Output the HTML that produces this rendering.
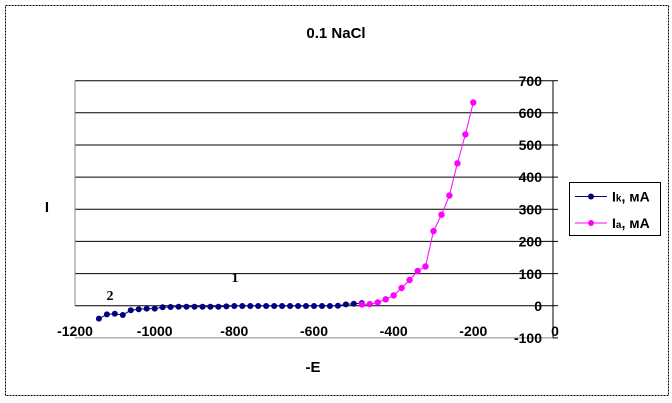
<!DOCTYPE html>
<html><head><meta charset="utf-8"><style>
html,body{margin:0;padding:0;background:#fff;width:672px;height:403px;overflow:hidden}
svg{display:block;font-family:"Liberation Sans",Arial,sans-serif}
</style></head><body>
<svg width="672" height="403" viewBox="0 0 672 403">
<rect x="5.5" y="5.5" width="663" height="390" fill="#fff" stroke="#000" stroke-width="1" stroke-dasharray="2,1"/>
<text x="336" y="38" text-anchor="middle" font-size="15" font-weight="bold">0.1 NaCl</text>
<g stroke="#000" stroke-width="1">
<line x1="75" y1="80.7" x2="553" y2="80.7"/>
<line x1="75" y1="112.8" x2="553" y2="112.8"/>
<line x1="75" y1="145" x2="553" y2="145"/>
<line x1="75" y1="177.1" x2="553" y2="177.1"/>
<line x1="75" y1="209.3" x2="553" y2="209.3"/>
<line x1="75" y1="241.4" x2="553" y2="241.4"/>
<line x1="75" y1="273.6" x2="553" y2="273.6"/>
<line x1="75" y1="305.7" x2="553" y2="305.7"/>
</g>
<line x1="75" y1="80.7" x2="75" y2="305.7" stroke="#888"/>
<line x1="75" y1="337.9" x2="553" y2="337.9" stroke="#888"/>
<line x1="553" y1="80.7" x2="553" y2="337.9" stroke="#000"/>
<g stroke="#000">
<line x1="553" y1="80.7" x2="558" y2="80.7"/><line x1="553" y1="112.8" x2="558" y2="112.8"/>
<line x1="553" y1="145" x2="558" y2="145"/><line x1="553" y1="177.1" x2="558" y2="177.1"/>
<line x1="553" y1="209.3" x2="558" y2="209.3"/><line x1="553" y1="241.4" x2="558" y2="241.4"/>
<line x1="553" y1="273.6" x2="558" y2="273.6"/><line x1="553" y1="305.7" x2="558" y2="305.7"/>
<line x1="553" y1="337.9" x2="558" y2="337.9"/>
</g>
<g font-size="14" font-weight="bold" text-anchor="end">
<text x="542" y="86">700</text><text x="542" y="118">600</text><text x="542" y="150">500</text>
<text x="542" y="182">400</text><text x="542" y="214.5">300</text><text x="542" y="246.5">200</text>
<text x="542" y="279">100</text><text x="542" y="311">0</text><text x="542" y="343">-100</text>
</g>
<g font-size="14" font-weight="bold" text-anchor="middle">
<text x="75" y="336">-1200</text><text x="154.7" y="336">-1000</text><text x="234.3" y="336">-800</text>
<text x="314" y="336">-600</text><text x="393.7" y="336">-400</text><text x="473.3" y="336">-200</text>
<text x="555" y="336">0</text>
</g>
<text x="47" y="212" font-size="15" font-weight="bold" text-anchor="middle">I</text>
<text x="313" y="372" font-size="15" font-weight="bold" text-anchor="middle">-E</text>
<text x="235" y="282" font-size="14" font-weight="bold" font-family="Liberation Serif,serif" text-anchor="middle">1</text>
<text x="110" y="300" font-size="14" font-weight="bold" font-family="Liberation Serif,serif" text-anchor="middle">2</text>
<polyline fill="none" stroke="#000080" stroke-width="1" points="98.9,318.6 106.9,314.4 114.8,313.7 122.8,315 130.8,310.2 138.7,309.2 146.7,308.6 154.7,308.6 162.6,307.3 170.6,307 178.6,306.7 186.5,306.7 194.5,306.7 202.5,306.7 210.4,306.7 218.4,306.7 226.4,306.4 234.3,306 242.3,306 250.3,306 258.2,306 266.2,306 274.2,306 282.1,306 290.1,306 298.1,306 306,306 314,306 322,306 329.9,306 337.9,305.7 345.9,304.4 353.8,303.8 361.8,303.1"/>
<g fill="#000080">
<circle cx="98.9" cy="318.6" r="3"/><circle cx="106.9" cy="314.4" r="3"/><circle cx="114.8" cy="313.7" r="3"/><circle cx="122.8" cy="315" r="3"/><circle cx="130.8" cy="310.2" r="3"/><circle cx="138.7" cy="309.2" r="3"/><circle cx="146.7" cy="308.6" r="3"/><circle cx="154.7" cy="308.6" r="3"/><circle cx="162.6" cy="307.3" r="3"/><circle cx="170.6" cy="307" r="3"/><circle cx="178.6" cy="306.7" r="3"/><circle cx="186.5" cy="306.7" r="3"/><circle cx="194.5" cy="306.7" r="3"/><circle cx="202.5" cy="306.7" r="3"/><circle cx="210.4" cy="306.7" r="3"/><circle cx="218.4" cy="306.7" r="3"/><circle cx="226.4" cy="306.4" r="3"/><circle cx="234.3" cy="306" r="3"/><circle cx="242.3" cy="306" r="3"/><circle cx="250.3" cy="306" r="3"/><circle cx="258.2" cy="306" r="3"/><circle cx="266.2" cy="306" r="3"/><circle cx="274.2" cy="306" r="3"/><circle cx="282.1" cy="306" r="3"/><circle cx="290.1" cy="306" r="3"/><circle cx="298.1" cy="306" r="3"/><circle cx="306" cy="306" r="3"/><circle cx="314" cy="306" r="3"/><circle cx="322" cy="306" r="3"/><circle cx="329.9" cy="306" r="3"/><circle cx="337.9" cy="305.7" r="3"/><circle cx="345.9" cy="304.4" r="3"/><circle cx="353.8" cy="303.8" r="3"/><circle cx="361.8" cy="303.1" r="3"/>
</g>
<polyline fill="none" stroke="#ff00ff" stroke-width="1" points="361.8,304.4 369.8,304.1 377.7,302.5 385.7,299.3 393.7,295.4 401.6,288 409.6,280 417.6,271 425.5,266.5 433.5,231.1 441.5,214.7 449.4,195.5 457.4,163.3 465.4,134.4 473.3,102.5"/>
<g fill="#ff00ff">
<circle cx="361.8" cy="304.4" r="3.2"/><circle cx="369.8" cy="304.1" r="3.2"/><circle cx="377.7" cy="302.5" r="3.2"/><circle cx="385.7" cy="299.3" r="3.2"/><circle cx="393.7" cy="295.4" r="3.2"/><circle cx="401.6" cy="288" r="3.2"/><circle cx="409.6" cy="280" r="3.2"/><circle cx="417.6" cy="271" r="3.2"/><circle cx="425.5" cy="266.5" r="3.2"/><circle cx="433.5" cy="231.1" r="3.2"/><circle cx="441.5" cy="214.7" r="3.2"/><circle cx="449.4" cy="195.5" r="3.2"/><circle cx="457.4" cy="163.3" r="3.2"/><circle cx="465.4" cy="134.4" r="3.2"/><circle cx="473.3" cy="102.5" r="3.2"/>
</g>
<rect x="569.5" y="182.5" width="91" height="53" fill="#fff" stroke="#000"/>
<line x1="575" y1="196.5" x2="607" y2="196.5" stroke="#000080"/>
<circle cx="591" cy="196.5" r="3" fill="#000080"/>
<text x="612" y="201.5" font-size="14" font-weight="bold">I<tspan font-size="10">k</tspan>, мА</text>
<line x1="575" y1="223" x2="607" y2="223" stroke="#ff00ff"/>
<circle cx="591" cy="223" r="3" fill="#ff00ff"/>
<text x="612" y="228" font-size="14" font-weight="bold">I<tspan font-size="10">a</tspan>, мА</text>
</svg>
</body></html>
